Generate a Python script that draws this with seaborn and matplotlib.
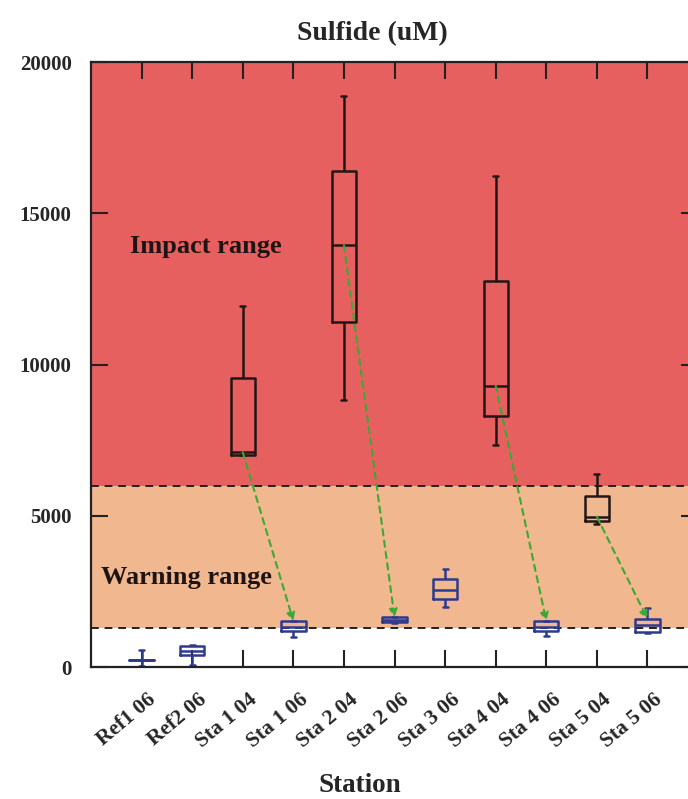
import numpy as np
import pandas as pd
import matplotlib
matplotlib.use("Agg")
import matplotlib.pyplot as plt
import matplotlib.transforms as mtrans
import seaborn as sns

# five-number summaries (min, q1, median, q3, max)
stations = ["Ref1 06", "Ref2 06", "Sta 1 04", "Sta 1 06", "Sta 2 04", "Sta 2 06",
            "Sta 3 06", "Sta 4 04", "Sta 4 06", "Sta 5 04", "Sta 5 06"]
years = ["06", "06", "04", "06", "04", "06", "06", "04", "06", "04", "06"]
ref1_06 = [20, 220, 230, 240, 560]
ref2_06 = [80, 400, 530, 700, 720]
sta1_04 = [7000, 7020, 7100, 9540, 11950]
sta1_06 = [990, 1190, 1320, 1520, 1530]
sta2_04 = [8840, 11390, 13940, 16390, 18870]
sta2_06 = [1450, 1480, 1560, 1640, 1660]
sta3_06 = [1990, 2250, 2550, 2910, 3240]
sta4_04 = [7350, 8310, 9300, 12750, 16220]
sta4_06 = [1030, 1190, 1330, 1520, 1530]
sta5_04 = [4730, 4830, 4970, 5660, 6390]
sta5_06 = [1130, 1160, 1390, 1590, 1950]
values = [ref1_06, ref2_06, sta1_04, sta1_06, sta2_04, sta2_06,
          sta3_06, sta4_04, sta4_06, sta5_04, sta5_06]

impact_lim = 6000
warning_lim = 1300
y_max = 20000

rows = []
for st, yr, vals in zip(stations, years, values):
    for v in vals:
        rows.append({"station": st, "year": yr, "sulfide": v})
df = pd.DataFrame(rows)

sns.set_style("ticks")
plt.rcParams["font.family"] = ["Liberation Serif", "DejaVu Serif"]
plt.rcParams["font.weight"] = "bold"

fig = plt.figure(figsize=(6.88, 7.99), dpi=100)
ax = fig.add_axes([0.1323, 0.1652, 0.8823, 0.7572])

ax.axhspan(impact_lim, y_max, color="#E5605E", zorder=0, lw=0)
ax.axhspan(warning_lim, impact_lim, color="#F1B78E", zorder=0, lw=0)
ax.axhline(impact_lim, color="#222222", ls=(0, (4, 3)), lw=1.4, zorder=1)
ax.axhline(warning_lim, color="#222222", ls=(0, (4, 3)), lw=1.4, zorder=1)

sns.boxplot(data=df, x="station", y="sulfide", hue="year", order=stations,
            palette={"04": "#221616", "06": "#2E3A8C"}, fill=False, dodge=False,
            width=0.48, whis=(0, 100), linewidth=1.8, legend=False, ax=ax,
            capwidths=0.1)

# arrows from each 2004 median to the following 2006 box
for i, (yr, vals) in enumerate(zip(years, values)):
    if yr == "04":
        ax.annotate("", xy=(i + 1, values[i + 1][3]), xytext=(i, vals[2]),
                    arrowprops=dict(arrowstyle="-|>", color="#3AA935", lw=1.5,
                                    ls=(0, (3, 2.5)), mutation_scale=12,
                                    shrinkA=0, shrinkB=0), zorder=5)

ax.text(-0.22, 13900, "Impact range", fontsize=19, fontweight="bold",
        color="#1e1414", va="center")
ax.text(-0.81, 2950, "Warning range", fontsize=19, fontweight="bold",
        color="#1e1414", va="center")

ax.set_xlim(-1, 11)
ax.set_ylim(0, y_max)
ax.set_yticks([0, 5000, 10000, 15000, 20000])
ax.tick_params(axis="both", direction="in", length=12, width=1.5,
               top=True, right=True, color="#222222")
ax.tick_params(axis="y", labelsize=15, pad=14)
ax.tick_params(axis="x", labelsize=15.5, pad=22)
for s in ax.spines.values():
    s.set_linewidth(1.6)
    s.set_color("#222222")

offset = mtrans.ScaledTranslation(12 / 100, 0, fig.dpi_scale_trans)
for lab in ax.get_xticklabels():
    lab.set_rotation(40)
    lab.set_ha("right")
    lab.set_va("center")
    lab.set_rotation_mode("anchor")
    lab.set_fontweight("bold")
    lab.set_transform(lab.get_transform() + offset)
for lab in ax.get_yticklabels():
    lab.set_fontweight("bold")

ax.set_xlabel("Station", fontsize=19.5, fontweight="bold")
ax.xaxis.set_label_coords(0.443, -0.175)
ax.set_ylabel("")
ax.set_title("Sulfide (uM)", fontsize=20, fontweight="bold", pad=16, x=0.463)

fig.savefig("out.png", dpi=100)
